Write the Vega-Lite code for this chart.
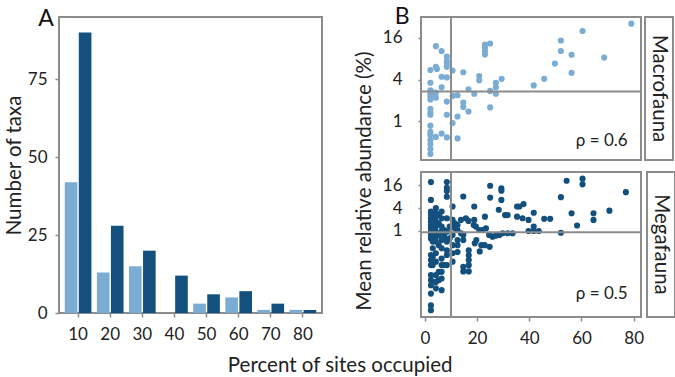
{
  "$schema": "https://vega.github.io/schema/vega-lite/v6.json",
  "padding": {"left": 3, "right": 5, "top": 6, "bottom": 0},
  "config": {
    "font": "Lato",
    "view": {"stroke": "#8c8c8c", "strokeWidth": 2},
    "axis": {"labelFont": "Lato", "labelFontSize": 17, "labelColor": "#222222", "tickColor": "#8c8c8c", "tickWidth": 1.5, "tickSize": 4, "domain": false, "grid": false, "titleFont": "Lato", "titleFontSize": 20.5, "titleFontWeight": "normal", "titleColor": "#222222"},
    "text": {"font": "Lato", "color": "#222222"}
  },
  "datasets": {
    "hist": [
      {"pct": 10, "fauna": "Macrofauna", "count": 42}, {"pct": 10, "fauna": "Megafauna", "count": 90},
      {"pct": 20, "fauna": "Macrofauna", "count": 13}, {"pct": 20, "fauna": "Megafauna", "count": 28},
      {"pct": 30, "fauna": "Macrofauna", "count": 15}, {"pct": 30, "fauna": "Megafauna", "count": 20},
      {"pct": 40, "fauna": "Macrofauna", "count": 0}, {"pct": 40, "fauna": "Megafauna", "count": 12},
      {"pct": 50, "fauna": "Macrofauna", "count": 3}, {"pct": 50, "fauna": "Megafauna", "count": 6},
      {"pct": 60, "fauna": "Macrofauna", "count": 5}, {"pct": 60, "fauna": "Megafauna", "count": 7},
      {"pct": 70, "fauna": "Macrofauna", "count": 1}, {"pct": 70, "fauna": "Megafauna", "count": 3},
      {"pct": 80, "fauna": "Macrofauna", "count": 1}, {"pct": 80, "fauna": "Megafauna", "count": 1}
    ],
    "macro": [
      {"x": 4.2, "y": 12.1}, {"x": 6.4, "y": 10.3}, {"x": 8.4, "y": 8.6}, {"x": 8.4, "y": 7.4}, {"x": 8.4, "y": 6.8}, {"x": 8.4, "y": 6.1},
      {"x": 2.1, "y": 5.5}, {"x": 4.2, "y": 6.1}, {"x": 4.6, "y": 5.7}, {"x": 10.6, "y": 5.4}, {"x": 6.4, "y": 4.4}, {"x": 8.4, "y": 4.3},
      {"x": 2.1, "y": 3.6}, {"x": 6.4, "y": 3.1}, {"x": 2.1, "y": 2.8}, {"x": 2.1, "y": 2.5}, {"x": 2.1, "y": 2.3}, {"x": 4.2, "y": 2.6},
      {"x": 4.2, "y": 2.2}, {"x": 3.0, "y": 2.6}, {"x": 8.4, "y": 1.93}, {"x": 10.6, "y": 2.33}, {"x": 12.5, "y": 2.38}, {"x": 2.1, "y": 1.52},
      {"x": 2.1, "y": 1.35}, {"x": 2.1, "y": 1.25}, {"x": 8.4, "y": 1.25}, {"x": 12.5, "y": 1.18}, {"x": 10.6, "y": 0.95}, {"x": 2.1, "y": 0.87},
      {"x": 2.1, "y": 0.71}, {"x": 2.1, "y": 0.64}, {"x": 2.1, "y": 0.54}, {"x": 2.1, "y": 0.47}, {"x": 2.1, "y": 0.4}, {"x": 2.1, "y": 0.34},
      {"x": 4.2, "y": 0.6}, {"x": 6.4, "y": 0.67}, {"x": 8.4, "y": 0.59}, {"x": 12.5, "y": 0.57}, {"x": 14.7, "y": 5.1}, {"x": 14.7, "y": 1.87},
      {"x": 14.7, "y": 1.62}, {"x": 16.7, "y": 2.9}, {"x": 16.7, "y": 1.39}, {"x": 18.9, "y": 2.5}, {"x": 20.8, "y": 4.5}, {"x": 20.8, "y": 3.9},
      {"x": 23, "y": 12.8}, {"x": 23, "y": 11.6}, {"x": 23, "y": 10.3}, {"x": 23, "y": 9.2}, {"x": 25, "y": 13.2}, {"x": 25, "y": 2.75},
      {"x": 25, "y": 1.59}, {"x": 27.2, "y": 3.6}, {"x": 27.2, "y": 3.1}, {"x": 27.2, "y": 2.5}, {"x": 29.4, "y": 4.1}, {"x": 41.7, "y": 3.3},
      {"x": 45.7, "y": 4.1}, {"x": 49.8, "y": 6.8}, {"x": 52.1, "y": 10.3}, {"x": 52.1, "y": 14.6}, {"x": 56.2, "y": 9.1}, {"x": 56.2, "y": 5.0},
      {"x": 60.4, "y": 20}, {"x": 68.7, "y": 8.3}, {"x": 79.1, "y": 25.5}, {"x": 2.1, "y": 2.07}, {"x": 3.2, "y": 2.4}
    ],
    "mega": [
      {"x": 2.3, "y": 19.7}, {"x": 8.4, "y": 19.7}, {"x": 8.4, "y": 13.9}, {"x": 8.4, "y": 11.3}, {"x": 8.4, "y": 8.0}, {"x": 2.3, "y": 6.6},
      {"x": 10.6, "y": 4.4}, {"x": 14.7, "y": 8.1}, {"x": 18.9, "y": 4.4}, {"x": 23, "y": 2.36}, {"x": 25, "y": 15.7}, {"x": 25, "y": 7.6},
      {"x": 29.3, "y": 13.5}, {"x": 29.3, "y": 11.6}, {"x": 29.3, "y": 6.6}, {"x": 28.3, "y": 3.6}, {"x": 30.7, "y": 2.6}, {"x": 31.7, "y": 2.6},
      {"x": 35.3, "y": 4.4}, {"x": 36.2, "y": 4.4}, {"x": 37.8, "y": 5.1}, {"x": 35.3, "y": 2.36}, {"x": 37.4, "y": 2.14}, {"x": 39.7, "y": 1.93},
      {"x": 41.7, "y": 3.0}, {"x": 41.7, "y": 1.28}, {"x": 39.7, "y": 0.98}, {"x": 41.7, "y": 0.98}, {"x": 43.6, "y": 0.98}, {"x": 45.7, "y": 2.06},
      {"x": 48, "y": 2.06}, {"x": 52.1, "y": 7.8}, {"x": 52.1, "y": 0.88}, {"x": 54.3, "y": 21.3}, {"x": 56.2, "y": 2.9}, {"x": 58.3, "y": 1.37},
      {"x": 60.4, "y": 24.3}, {"x": 60.4, "y": 17.1}, {"x": 64.6, "y": 2.9}, {"x": 64.6, "y": 1.93}, {"x": 70.7, "y": 3.4}, {"x": 77, "y": 10.6},
      {"x": 19.5, "y": 1.28}, {"x": 20.8, "y": 1.04}, {"x": 22.1, "y": 1.04}, {"x": 23.4, "y": 1.16}, {"x": 24.6, "y": 0.77}, {"x": 25.9, "y": 0.69},
      {"x": 27.2, "y": 0.74}, {"x": 28.5, "y": 0.77}, {"x": 29.8, "y": 0.85}, {"x": 31.7, "y": 0.85}, {"x": 33.6, "y": 0.85},
      {"x": 13.8, "y": 1.93}, {"x": 15.7, "y": 2.14}, {"x": 16.7, "y": 1.82}, {"x": 18.7, "y": 1.41}, {"x": 12.5, "y": 1.41}, {"x": 12.5, "y": 1.04},
      {"x": 13.8, "y": 0.85}, {"x": 14.7, "y": 0.77}, {"x": 14.7, "y": 0.56}, {"x": 12.5, "y": 0.27}, {"x": 14.7, "y": 0.109}, {"x": 16.8, "y": 0.082},
      {"x": 14.7, "y": 0.082}, {"x": 16.8, "y": 0.3}, {"x": 16.8, "y": 0.22}, {"x": 16.8, "y": 0.165}, {"x": 16.8, "y": 0.12}, {"x": 19.1, "y": 0.46},
      {"x": 19.7, "y": 0.56}, {"x": 21, "y": 0.28}, {"x": 21.6, "y": 0.41}, {"x": 22.9, "y": 0.41}, {"x": 24.8, "y": 0.37}, {"x": 12.5, "y": 0.56},
      {"x": 12.5, "y": 0.41}, {"x": 18.9, "y": 1.93},
      {"x": 2.3, "y": 3.23}, {"x": 2.3, "y": 2.64}, {"x": 2.3, "y": 2.14}, {"x": 2.3, "y": 1.74}, {"x": 2.3, "y": 1.42}, {"x": 2.3, "y": 1.16},
      {"x": 2.3, "y": 0.94}, {"x": 2.3, "y": 0.77}, {"x": 2.3, "y": 0.62}, {"x": 2.3, "y": 0.224}, {"x": 2.3, "y": 0.165}, {"x": 2.3, "y": 0.121},
      {"x": 2.3, "y": 0.065}, {"x": 2.3, "y": 0.048}, {"x": 2.3, "y": 0.035}, {"x": 2.3, "y": 0.021}, {"x": 2.3, "y": 0.0102}, {"x": 2.3, "y": 0.0076},
      {"x": 3.0, "y": 1.93}, {"x": 3.0, "y": 1.04}, {"x": 3.0, "y": 0.51}, {"x": 3.0, "y": 0.34}, {"x": 3.0, "y": 0.2}, {"x": 3.0, "y": 0.121},
      {"x": 4.2, "y": 3.97}, {"x": 4.2, "y": 2.91}, {"x": 4.2, "y": 2.38}, {"x": 4.2, "y": 1.74}, {"x": 4.2, "y": 1.28}, {"x": 4.2, "y": 0.94},
      {"x": 4.2, "y": 0.69}, {"x": 4.2, "y": 0.51}, {"x": 4.2, "y": 0.25}, {"x": 4.2, "y": 0.149}, {"x": 4.2, "y": 0.065}, {"x": 4.2, "y": 0.043},
      {"x": 4.2, "y": 0.029},
      {"x": 5.3, "y": 2.64}, {"x": 5.3, "y": 1.57}, {"x": 5.3, "y": 0.77}, {"x": 5.3, "y": 0.41}, {"x": 5.3, "y": 0.08}, {"x": 5.3, "y": 0.048},
      {"x": 6.4, "y": 3.23}, {"x": 6.4, "y": 2.14}, {"x": 6.4, "y": 1.28}, {"x": 6.4, "y": 0.94}, {"x": 6.4, "y": 0.56}, {"x": 6.4, "y": 0.34},
      {"x": 6.4, "y": 0.18}, {"x": 6.4, "y": 0.121}, {"x": 6.4, "y": 0.08}, {"x": 6.4, "y": 0.053}, {"x": 6.4, "y": 0.026},
      {"x": 7.4, "y": 1.04}, {"x": 7.4, "y": 0.69}, {"x": 7.4, "y": 0.121},
      {"x": 8.4, "y": 2.14}, {"x": 8.4, "y": 0.94}, {"x": 8.4, "y": 0.51}, {"x": 8.4, "y": 0.3}, {"x": 8.4, "y": 0.224}, {"x": 8.4, "y": 0.121},
      {"x": 9.5, "y": 1.28}, {"x": 9.5, "y": 0.62},
      {"x": 10.6, "y": 1.93}, {"x": 10.6, "y": 1.28}, {"x": 10.6, "y": 0.77}, {"x": 10.6, "y": 0.41}, {"x": 10.6, "y": 0.25}, {"x": 10.6, "y": 0.149},
      {"x": 11.5, "y": 1.57}, {"x": 11.5, "y": 1.16}
    ],
    "strips": [{"fauna": "Macrofauna"}, {"fauna": "Megafauna"}]
  },
  "title": {"text": "Percent of sites occupied", "orient": "bottom", "anchor": "middle", "frame": "bounds", "fontSize": 20.5, "fontWeight": "normal", "color": "#222222", "font": "Lato", "offset": 9},
  "spacing": 31,
  "hconcat": [
    {
      "title": {"text": "A", "anchor": "start", "frame": "bounds", "fontSize": 23, "fontWeight": "normal", "color": "#111111", "font": "Lato", "dx": 34, "offset": -14},
      "data": {"name": "hist"},
      "width": 263,
      "height": 296,
      "mark": {"type": "bar"},
      "encoding": {
        "x": {"field": "pct", "type": "ordinal", "scale": {"paddingInner": 0.17, "paddingOuter": 0.18}, "axis": {"title": null, "labelAngle": 0, "labelPadding": 9}},
        "xOffset": {"field": "fauna", "type": "nominal", "scale": {"paddingInner": 0.1, "paddingOuter": 0}},
        "y": {"field": "count", "type": "quantitative", "scale": {"domain": [0, 95], "nice": false}, "axis": {"values": [0, 25, 50, 75], "title": "Number of taxa", "labelPadding": 8, "titlePadding": 3}},
        "color": {"field": "fauna", "type": "nominal", "scale": {"domain": ["Macrofauna", "Megafauna"], "range": ["#7bacd4", "#14507e"]}, "legend": null}
      }
    },
    {
      "title": {"text": "B", "anchor": "start", "frame": "bounds", "fontSize": 23, "fontWeight": "normal", "color": "#111111", "font": "Lato", "dx": 40, "offset": -14},
      "vconcat": [
        {
          "title": {"text": "Mean relative abundance (%)", "orient": "left", "anchor": "middle", "fontSize": 20.5, "fontWeight": "normal", "color": "#222222", "font": "Lato", "offset": 6},
          "spacing": 8,
          "vconcat": [
            {
              "spacing": 0,
              "hconcat": [
                {
                  "width": 220,
                  "height": 143,
                  "layer": [
                    {
                      "data": {"name": "macro"},
                      "mark": {"type": "circle", "size": 38, "opacity": 1, "color": "#7bacd4"},
                      "encoding": {
                        "x": {"field": "x", "type": "quantitative", "scale": {"domain": [-1.5, 82.8], "nice": false, "zero": false}, "axis": null},
                        "y": {"field": "y", "type": "quantitative", "scale": {"type": "log", "base": 2, "domain": [0.279, 31.8], "nice": false}, "axis": {"values": [1, 4, 16], "title": null, "tickSize": 3, "labelPadding": 16, "format": "d"}}
                      }
                    },
                    {
                      "data": {"values": [{}]},
                      "mark": {"type": "rule", "color": "#8c8c8c", "strokeWidth": 2},
                      "encoding": {"x": {"datum": 10}}
                    },
                    {
                      "data": {"values": [{}]},
                      "mark": {"type": "rule", "color": "#8c8c8c", "strokeWidth": 2},
                      "encoding": {"y": {"datum": 2.7}}
                    },
                    {
                      "data": {"values": [{"x": 77.7, "y": 0.52, "label": "ρ = 0.6"}]},
                      "mark": {"type": "text", "align": "right", "baseline": "middle", "fontSize": 17},
                      "encoding": {
                        "x": {"field": "x", "type": "quantitative"},
                        "y": {"field": "y", "type": "quantitative"},
                        "text": {"field": "label"}
                      }
                    }
                  ]
                },
                {
                  "width": 28,
                  "height": 143,
                  "view": {"stroke": "#8c8c8c", "strokeWidth": 2},
                  "data": {"name": "strips"},
                  "transform": [{"filter": "datum.fauna === 'Macrofauna'"}],
                  "layer": [
                    {
                      "mark": {"type": "rect", "fill": null, "fillOpacity": 0, "stroke": "#8c8c8c", "strokeWidth": 2},
                      "encoding": {}
                    },
                    {
                      "mark": {"type": "text", "angle": 90, "fontSize": 20.5, "align": "center", "baseline": "middle"},
                      "encoding": {"text": {"field": "fauna"}}
                    }
                  ]
                }
              ]
            },
            {
              "spacing": 0,
              "hconcat": [
                {
                  "width": 220,
                  "height": 145,
                  "layer": [
                    {
                      "data": {"name": "mega"},
                      "mark": {"type": "circle", "size": 38, "opacity": 1, "color": "#14507e"},
                      "encoding": {
                        "x": {"field": "x", "type": "quantitative", "scale": {"domain": [-1.5, 82.8], "nice": false, "zero": false}, "axis": {"values": [0, 20, 40, 60, 80], "title": null, "labelPadding": 9, "labelFlush": false}},
                        "y": {"field": "y", "type": "quantitative", "scale": {"type": "log", "base": 2, "domain": [0.005, 36.5], "nice": false}, "axis": {"values": [1, 4, 16], "title": null, "tickSize": 3, "labelPadding": 16, "format": "d"}}
                      }
                    },
                    {
                      "data": {"values": [{}]},
                      "mark": {"type": "rule", "color": "#8c8c8c", "strokeWidth": 2},
                      "encoding": {"x": {"datum": 10}}
                    },
                    {
                      "data": {"values": [{}]},
                      "mark": {"type": "rule", "color": "#8c8c8c", "strokeWidth": 2},
                      "encoding": {"y": {"datum": 0.9}}
                    },
                    {
                      "data": {"values": [{"x": 77.7, "y": 0.021, "label": "ρ = 0.5"}]},
                      "mark": {"type": "text", "align": "right", "baseline": "middle", "fontSize": 17},
                      "encoding": {
                        "x": {"field": "x", "type": "quantitative"},
                        "y": {"field": "y", "type": "quantitative"},
                        "text": {"field": "label"}
                      }
                    }
                  ]
                },
                {
                  "width": 28,
                  "height": 145,
                  "view": {"stroke": "#8c8c8c", "strokeWidth": 2},
                  "data": {"name": "strips"},
                  "transform": [{"filter": "datum.fauna === 'Megafauna'"}],
                  "layer": [
                    {
                      "mark": {"type": "rect", "fill": null, "fillOpacity": 0, "stroke": "#8c8c8c", "strokeWidth": 2},
                      "encoding": {}
                    },
                    {
                      "mark": {"type": "text", "angle": 90, "fontSize": 20.5, "align": "center", "baseline": "middle"},
                      "encoding": {"text": {"field": "fauna"}}
                    }
                  ]
                }
              ]
            }
          ]
        }
      ]
    }
  ]
}
